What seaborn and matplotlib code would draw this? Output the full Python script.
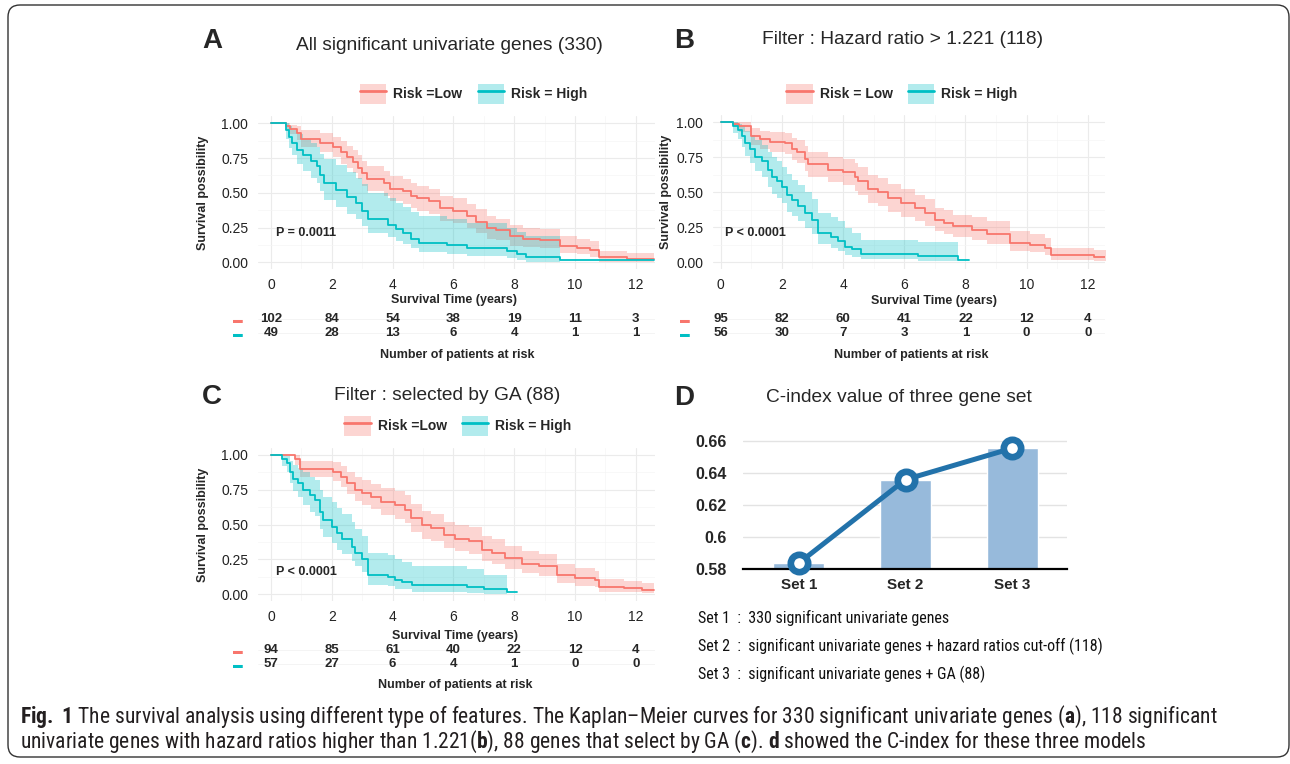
import numpy as np
import pandas as pd
import matplotlib
matplotlib.use("Agg")
import matplotlib.pyplot as plt
import seaborn as sns
from matplotlib import font_manager
from matplotlib.patches import Patch, FancyBboxPatch
from matplotlib.lines import Line2D
from matplotlib.ticker import MultipleLocator
from matplotlib.transforms import IdentityTransform

# ---------------- data ----------------
risk_times = [0, 2, 4, 6, 8, 10, 12]

# A : all significant univariate genes (330)
a_low_t = [0, 0.5, 0.63, 0.85, 1.0, 1.6, 2.05, 2.3, 2.5, 2.7, 2.85, 3.0, 3.15, 3.7, 3.9, 4.35, 4.6,
           4.8, 5.2, 5.55, 6.0, 6.45, 6.75, 7.1, 7.4, 7.85, 8.3, 8.85, 9.5, 10.05, 10.5, 10.8, 11.7, 12.6]
a_low_s = [1.0, 0.98, 0.96, 0.93, 0.89, 0.86, 0.83, 0.79, 0.76, 0.72, 0.68, 0.64, 0.60, 0.57, 0.53, 0.51, 0.48,
           0.46, 0.44, 0.39, 0.37, 0.33, 0.29, 0.245, 0.23, 0.19, 0.17, 0.16, 0.12, 0.105, 0.09, 0.035, 0.025, 0.025]
a_low_hi = [1.0, 1.0, 0.99, 0.98, 0.95, 0.93, 0.90, 0.87, 0.84, 0.81, 0.77, 0.73, 0.69, 0.66, 0.62, 0.60, 0.57,
            0.55, 0.53, 0.48, 0.46, 0.42, 0.38, 0.33, 0.31, 0.27, 0.25, 0.24, 0.19, 0.17, 0.15, 0.08, 0.07, 0.07]
a_low_lo = [1.0, 0.95, 0.92, 0.88, 0.83, 0.79, 0.76, 0.71, 0.68, 0.64, 0.60, 0.55, 0.51, 0.48, 0.44, 0.42, 0.39,
            0.37, 0.35, 0.30, 0.28, 0.25, 0.21, 0.17, 0.16, 0.12, 0.11, 0.10, 0.07, 0.06, 0.04, 0.005, 0.0, 0.0]
a_high_t = [0, 0.5, 0.6, 0.7, 0.85, 1.05, 1.3, 1.5, 1.6, 1.75, 2.15, 2.5, 2.8, 3.0, 3.2, 3.85, 4.1, 4.35,
            4.6, 4.85, 5.8, 6.45, 7.75, 8.1, 8.4, 9.5, 12.6]
a_high_s = [1.0, 0.95, 0.90, 0.86, 0.81, 0.77, 0.73, 0.69, 0.63, 0.57, 0.52, 0.47, 0.43, 0.37, 0.31, 0.27, 0.24, 0.21,
            0.17, 0.14, 0.125, 0.105, 0.085, 0.06, 0.035, 0.02, 0.02]
a_high_hi = [1.0, 1.0, 0.98, 0.95, 0.92, 0.89, 0.86, 0.83, 0.78, 0.74, 0.70, 0.65, 0.61, 0.56, 0.50, 0.46, 0.43, 0.40,
             0.36, 0.33, 0.31, 0.28, 0.25, 0.22, 0.19, 0.19]
a_high_lo = [1.0, 0.89, 0.82, 0.77, 0.71, 0.66, 0.61, 0.57, 0.51, 0.45, 0.40, 0.35, 0.31, 0.26, 0.21, 0.18, 0.15, 0.13,
             0.10, 0.075, 0.06, 0.045, 0.03, 0.015, 0.005, 0.005]
a_risk_low = [102, 84, 54, 38, 19, 11, 3]
a_risk_high = [49, 28, 13, 6, 4, 1, 1]

# B : hazard ratio > 1.221 (118)
b_low_t = [0, 0.4, 0.6, 1.0, 1.3, 1.6, 2.1, 2.33, 2.5, 2.75, 2.86, 3.5, 4.0, 4.4, 4.5, 4.83, 5.15, 5.48,
           5.9, 6.35, 6.68, 7.0, 7.3, 7.6, 8.2, 8.7, 9.46, 10.1, 10.6, 10.8, 12.2, 12.6]
b_low_s = [1.0, 0.99, 0.97, 0.90, 0.88, 0.86, 0.85, 0.81, 0.79, 0.74, 0.70, 0.66, 0.645, 0.61, 0.58, 0.52, 0.50, 0.46,
           0.42, 0.386, 0.35, 0.30, 0.28, 0.255, 0.23, 0.20, 0.136, 0.124, 0.10, 0.052, 0.036, 0.036]
b_low_hi = [1.0, 1.0, 1.0, 0.96, 0.94, 0.93, 0.92, 0.89, 0.87, 0.83, 0.79, 0.75, 0.74, 0.71, 0.68, 0.62, 0.60, 0.56,
            0.52, 0.48, 0.45, 0.39, 0.37, 0.34, 0.32, 0.29, 0.22, 0.20, 0.17, 0.10, 0.085, 0.085]
b_low_lo = [1.0, 0.97, 0.93, 0.84, 0.81, 0.79, 0.77, 0.73, 0.71, 0.65, 0.61, 0.57, 0.55, 0.51, 0.48, 0.42, 0.40, 0.36,
            0.32, 0.29, 0.26, 0.22, 0.20, 0.18, 0.16, 0.13, 0.08, 0.07, 0.05, 0.015, 0.005, 0.005]
b_high_t = [0, 0.41, 0.58, 0.69, 0.79, 0.96, 1.12, 1.34, 1.56, 1.67, 1.83, 1.99, 2.16, 2.32, 2.54, 2.75, 2.97,
            3.19, 3.6, 3.84, 4.06, 4.28, 4.6, 6.45, 7.76, 8.1]
b_high_s = [1.0, 0.97, 0.945, 0.90, 0.85, 0.81, 0.755, 0.72, 0.66, 0.61, 0.58, 0.54, 0.48, 0.445, 0.40, 0.35, 0.30,
            0.21, 0.18, 0.15, 0.11, 0.09, 0.06, 0.04, 0.017, 0.017]
b_high_hi = [1.0, 1.0, 0.99, 0.97, 0.94, 0.91, 0.87, 0.84, 0.79, 0.75, 0.72, 0.68, 0.63, 0.59, 0.55, 0.50, 0.45,
             0.35, 0.32, 0.29, 0.24, 0.21, 0.16, 0.14, 0.14]
b_high_lo = [1.0, 0.92, 0.88, 0.82, 0.76, 0.71, 0.65, 0.61, 0.54, 0.49, 0.46, 0.42, 0.36, 0.33, 0.29, 0.24, 0.20,
             0.13, 0.10, 0.08, 0.05, 0.035, 0.02, 0.005, 0.005]
b_risk_low = [95, 82, 60, 41, 22, 12, 4]
b_risk_high = [56, 30, 7, 3, 1, 0, 0]

# C : selected by GA (88)
c_low_t = [0, 0.8, 0.95, 2.05, 2.3, 2.5, 2.76, 2.98, 3.3, 3.63, 4.07, 4.4, 4.6, 4.95, 5.27, 5.7, 6.05, 6.5,
           6.93, 7.26, 7.7, 8.25, 8.8, 9.4, 10.0, 10.65, 10.8, 11.6, 12.2, 12.6]
c_low_s = [1.0, 0.97, 0.90, 0.88, 0.845, 0.80, 0.75, 0.725, 0.70, 0.665, 0.64, 0.605, 0.545, 0.50, 0.475, 0.425,
           0.40, 0.38, 0.32, 0.30, 0.26, 0.22, 0.20, 0.14, 0.115, 0.10, 0.055, 0.043, 0.03, 0.03]
c_low_hi = [1.0, 1.0, 0.96, 0.95, 0.92, 0.88, 0.84, 0.82, 0.79, 0.76, 0.74, 0.71, 0.65, 0.60, 0.58, 0.52, 0.50,
            0.48, 0.42, 0.40, 0.35, 0.31, 0.29, 0.22, 0.19, 0.17, 0.11, 0.095, 0.08, 0.08]
c_low_lo = [1.0, 0.93, 0.84, 0.81, 0.77, 0.72, 0.67, 0.64, 0.61, 0.57, 0.54, 0.51, 0.45, 0.40, 0.38, 0.33, 0.31,
            0.29, 0.24, 0.22, 0.18, 0.15, 0.13, 0.08, 0.06, 0.05, 0.02, 0.015, 0.008, 0.008]
c_high_t = [0, 0.35, 0.52, 0.62, 0.73, 0.9, 1.06, 1.28, 1.45, 1.61, 1.72, 2.0, 2.16, 2.32, 2.65, 2.76, 2.98,
            3.2, 3.86, 4.07, 4.3, 4.63, 6.43, 7.0, 7.75, 8.1]
c_high_s = [1.0, 0.97, 0.94, 0.88, 0.83, 0.80, 0.75, 0.71, 0.68, 0.59, 0.53, 0.485, 0.44, 0.40, 0.34, 0.295, 0.25,
            0.14, 0.127, 0.10, 0.09, 0.07, 0.05, 0.035, 0.015, 0.015]
c_high_hi = [1.0, 1.0, 0.99, 0.96, 0.93, 0.91, 0.88, 0.84, 0.82, 0.75, 0.70, 0.66, 0.62, 0.58, 0.52, 0.47, 0.42,
             0.30, 0.28, 0.25, 0.23, 0.20, 0.18, 0.14, 0.14]
c_high_lo = [1.0, 0.92, 0.88, 0.80, 0.74, 0.70, 0.64, 0.59, 0.56, 0.47, 0.41, 0.37, 0.32, 0.29, 0.24, 0.20, 0.16,
             0.07, 0.06, 0.04, 0.035, 0.02, 0.01, 0.005, 0.005]
c_risk_low = [94, 85, 61, 40, 22, 12, 4]
c_risk_high = [57, 27, 6, 4, 1, 0, 0]

# D : C-index
gene_sets = ["Set 1", "Set 2", "Set 3"]
c_index = [0.5835, 0.6357, 0.6553]
set_notes = ["Set 1  :  330 significant univariate genes",
             "Set 2  :  significant univariate genes + hazard ratios cut-off (118)",
             "Set 3  :  significant univariate genes + GA (88)"]

caption_1 = (r"$\mathbf{Fig.}$ $\mathbf{1}$ The survival analysis using different type of features. "
             r"The Kaplan–Meier curves for 330 significant univariate genes ($\mathbf{a}$), 118 significant")
caption_2 = (r"univariate genes with hazard ratios higher than 1.221($\mathbf{b}$), 88 genes that select by GA "
             r"($\mathbf{c}$). $\mathbf{d}$ showed the C-index for these three models")

# ---------------- style ----------------
RED = "#F8766D"
TEAL = "#00BFC4"
W, H = 1290, 764

sns.set_theme(style="white")
plt.rcParams["font.family"] = ["Liberation Sans", "DejaVu Sans"]


def has_font(name):
    try:
        font_manager.findfont(font_manager.FontProperties(family=name), fallback_to_default=False)
        return True
    except Exception:
        return False


narrow = "Lato"
for cand in ("Liberation Sans Narrow", "Roboto Condensed", "Open Sans Condensed", "Lato"):
    if has_font(cand):
        narrow = cand
        break
plt.rcParams["mathtext.fontset"] = "custom"
plt.rcParams["mathtext.rm"] = narrow
plt.rcParams["mathtext.bf"] = narrow + ":bold"

fig = plt.figure(figsize=(W / 100, H / 100), dpi=100)
renderer = fig.canvas.get_renderer()


def px_axes(l, t, r, b):
    return fig.add_axes([l / W, 1 - b / H, (r - l) / W, (b - t) / H])


def ftext(x, y, s, **kw):
    return fig.text(x / W, 1 - y / H, s, **kw)


def km_panel(box, xlim, low, high, pval, pval_y, risk_low, risk_high, rows, dash_x,
             ylab_x, xlab, numlab, legend_c, low_label):
    ax = px_axes(*box)
    for (t, s, hi, lo), col in ((low, RED), (high, TEAL)):
        n = len(hi)
        ax.fill_between(t[:n], lo, hi, step="post", color=col, alpha=0.3, lw=0)
    df = pd.DataFrame({
        "time": low[0] + high[0],
        "surv": low[1] + high[1],
        "risk": ["Low"] * len(low[0]) + ["High"] * len(high[0]),
    })
    sns.lineplot(data=df, x="time", y="surv", hue="risk", palette={"Low": RED, "High": TEAL},
                 drawstyle="steps-post", estimator=None, sort=False, legend=False,
                 linewidth=1.3, ax=ax)
    ax.set_xlim(*xlim)
    ax.set_ylim(-0.05, 1.05)
    ax.set_xticks(risk_times)
    ax.xaxis.set_minor_locator(MultipleLocator(1))
    ax.set_yticks([0, 0.25, 0.5, 0.75, 1.0])
    ax.set_yticklabels(["0.00", "0.25", "0.50", "0.75", "1.00"])
    ax.yaxis.set_minor_locator(MultipleLocator(0.125))
    ax.set_axisbelow(True)
    ax.grid(which="major", color="#EBEBEB", lw=0.8)
    ax.grid(which="minor", color="#F5F5F5", lw=0.5)
    for sp in ax.spines.values():
        sp.set_visible(False)
    ax.tick_params(axis="x", which="major", length=2, width=0.8, color="#666666", pad=4.5,
                   labelsize=10, labelcolor="#222222")
    ax.tick_params(axis="y", which="major", length=0, pad=7, labelsize=10, labelcolor="#222222")
    ax.tick_params(which="minor", length=0)
    ax.set_xlabel("")
    ax.set_ylabel("")
    ax.text(0.15, pval_y, pval, fontsize=9, fontweight="bold", va="center", ha="left")

    ycen = (box[1] + box[3]) / 2
    ftext(ylab_x, ycen, "Survival possibility", rotation=90, fontsize=9, fontweight="bold",
          ha="center", va="center")
    ftext(xlab[0], xlab[1], "Survival Time (years)", fontsize=9, fontweight="bold",
          ha="center", va="center")

    # risk table
    r1, r2 = rows
    tab = px_axes(box[0], r1 - 10, box[2], r2 + 10)
    tab.set_xlim(*xlim)
    tab.set_ylim(-0.71, 1.71)
    for tt, n1, n2 in zip(risk_times, risk_low, risk_high):
        tab.text(tt, 1, str(n1), ha="center", va="center", fontsize=9.5, fontweight="bold")
        tab.text(tt, 0, str(n2), ha="center", va="center", fontsize=9.5, fontweight="bold")
    tab.set_xticks([])
    tab.set_yticks([1, 0])
    tab.set_yticklabels(["\u25AC", "\u25AC"], fontsize=7)
    for lab, col in zip(tab.get_yticklabels(), (RED, TEAL)):
        lab.set_color(col)
    tab.tick_params(axis="y", length=0, pad=box[0] - dash_x - 5)
    tab.grid(axis="y", color="#F3F3F3", lw=0.6)
    for sp in tab.spines.values():
        sp.set_visible(False)
    ftext(numlab[0], numlab[1], "Number of patients at risk", fontsize=9, fontweight="bold",
          ha="center", va="center")

    handles = [(Patch(facecolor=RED, alpha=0.3, edgecolor="none"), Line2D([], [], color=RED, lw=2)),
               (Patch(facecolor=TEAL, alpha=0.3, edgecolor="none"), Line2D([], [], color=TEAL, lw=2))]
    fig.legend(handles, [low_label, "Risk = High"], loc="center",
               bbox_to_anchor=(legend_c[0] / W, 1 - legend_c[1] / H), ncol=2, frameon=False,
               prop=dict(weight="bold", size=10), handlelength=1.9, handleheight=1.8,
               handletextpad=0.5, columnspacing=1.1)
    return ax


# panel A
km_panel((258, 116.3, 655, 269.3), (-0.43, 12.63),
         (a_low_t, a_low_s, a_low_hi, a_low_lo), (a_high_t, a_high_s, a_high_hi, a_high_lo),
         "P = 0.0011", 0.21, a_risk_low, a_risk_high, (319.3, 333.3), 242,
         203, (454, 300.5), (457, 355), (473.5, 94), "Risk =Low")
ftext(212, 41, "A", fontsize=20, fontweight="bold", ha="center", va="center")
ftext(449.5, 45, "All significant univariate genes (330)", fontsize=13.8, ha="center", va="center")

# panel B
km_panel((713, 115.3, 1105, 269), (-0.25, 12.56),
         (b_low_t, b_low_s, b_low_hi, b_low_lo), (b_high_t, b_high_s, b_high_hi, b_high_lo),
         "P < 0.0001", 0.21, b_risk_low, b_risk_high, (319.3, 333.3), 691,
         666, (934, 301), (911, 355), (902, 94), "Risk = Low")
ftext(684, 41, "B", fontsize=20, fontweight="bold", ha="center", va="center")
ftext(903, 40, "Filter : Hazard ratio > 1.221 (118)", fontsize=13.8, ha="center", va="center")

# panel C
km_panel((258, 448, 655, 601.3), (-0.43, 12.63),
         (c_low_t, c_low_s, c_low_hi, c_low_lo), (c_high_t, c_high_s, c_high_hi, c_high_lo),
         "P < 0.0001", 0.16, c_risk_low, c_risk_high, (650, 664.3), 242,
         203, (455, 636), (455, 685), (458, 426), "Risk =Low")
ftext(212, 397, "C", fontsize=20, fontweight="bold", ha="center", va="center")
ftext(446.7, 395, "Filter : selected by GA (88)", fontsize=13.8, ha="center", va="center")

# panel D
axd = px_axes(743.3, 437.5, 1066.7, 568.7)
sns.barplot(x=gene_sets, y=c_index, color="#97BADB", saturation=1, width=0.475, ax=axd)
sns.pointplot(x=gene_sets, y=c_index, color="#2272AA", markers="o", errorbar=None,
              linewidth=3.6, markersize=12.5, markeredgewidth=4.8, markerfacecolor="white", ax=axd)
for ln in axd.lines:
    ln.set_clip_on(False)
    ln.set_zorder(5)
axd.set_xlim(-0.52, 2.51)
axd.set_ylim(0.58, 0.662)
axd.set_yticks([0.58, 0.60, 0.62, 0.64, 0.66])
axd.set_yticklabels(["0.58", "0.6", "0.62", "0.64", "0.66"])
axd.set_axisbelow(True)
axd.grid(axis="y", color="#E3E3E3", lw=1)
axd.grid(axis="x", visible=False)
for side in ("left", "right", "top"):
    axd.spines[side].set_visible(False)
axd.spines["bottom"].set_color("black")
axd.spines["bottom"].set_linewidth(1.6)
axd.tick_params(axis="y", length=0, pad=12, labelsize=11.5)
axd.tick_params(axis="x", length=0, pad=7, labelsize=11)
for lab in axd.get_yticklabels() + axd.get_xticklabels():
    lab.set_fontweight("bold")
axd.set_xlabel("")
axd.set_ylabel("")
ftext(684, 398, "D", fontsize=20, fontweight="bold", ha="center", va="center")
ftext(899, 398, "C-index value of three gene set", fontsize=13.8, ha="center", va="center")

# notes under panel D, sized so the longest line spans like the original
notes = [ftext(698.3, y, s, fontsize=10, family=narrow, ha="left", va="center", color="#111111")
         for y, s in zip((617.7, 646, 674), set_notes)]
w2 = notes[1].get_window_extent(renderer=renderer).width
for n in notes:
    n.set_fontsize(10 * 403 / w2)

# caption
cap1 = ftext(20, 717, caption_1, fontsize=12, family=narrow, ha="left", va="center", color="#231F20")
w1 = cap1.get_window_extent(renderer=renderer).width
cap_size = 12 * (1218 - 20) / w1
cap1.set_fontsize(cap_size)
ftext(20, 742, caption_2, fontsize=cap_size, family=narrow, ha="left", va="center", color="#231F20")

# rounded frame around the figure panel (right side runs off the page edge)
frame = FancyBboxPatch((8, H - 757), 1281, 752, boxstyle="round,pad=0,rounding_size=12",
                       transform=IdentityTransform(), fill=False, ec="#333333", lw=1)
fig.patches.append(frame)

fig.savefig("out.png", dpi=100)
